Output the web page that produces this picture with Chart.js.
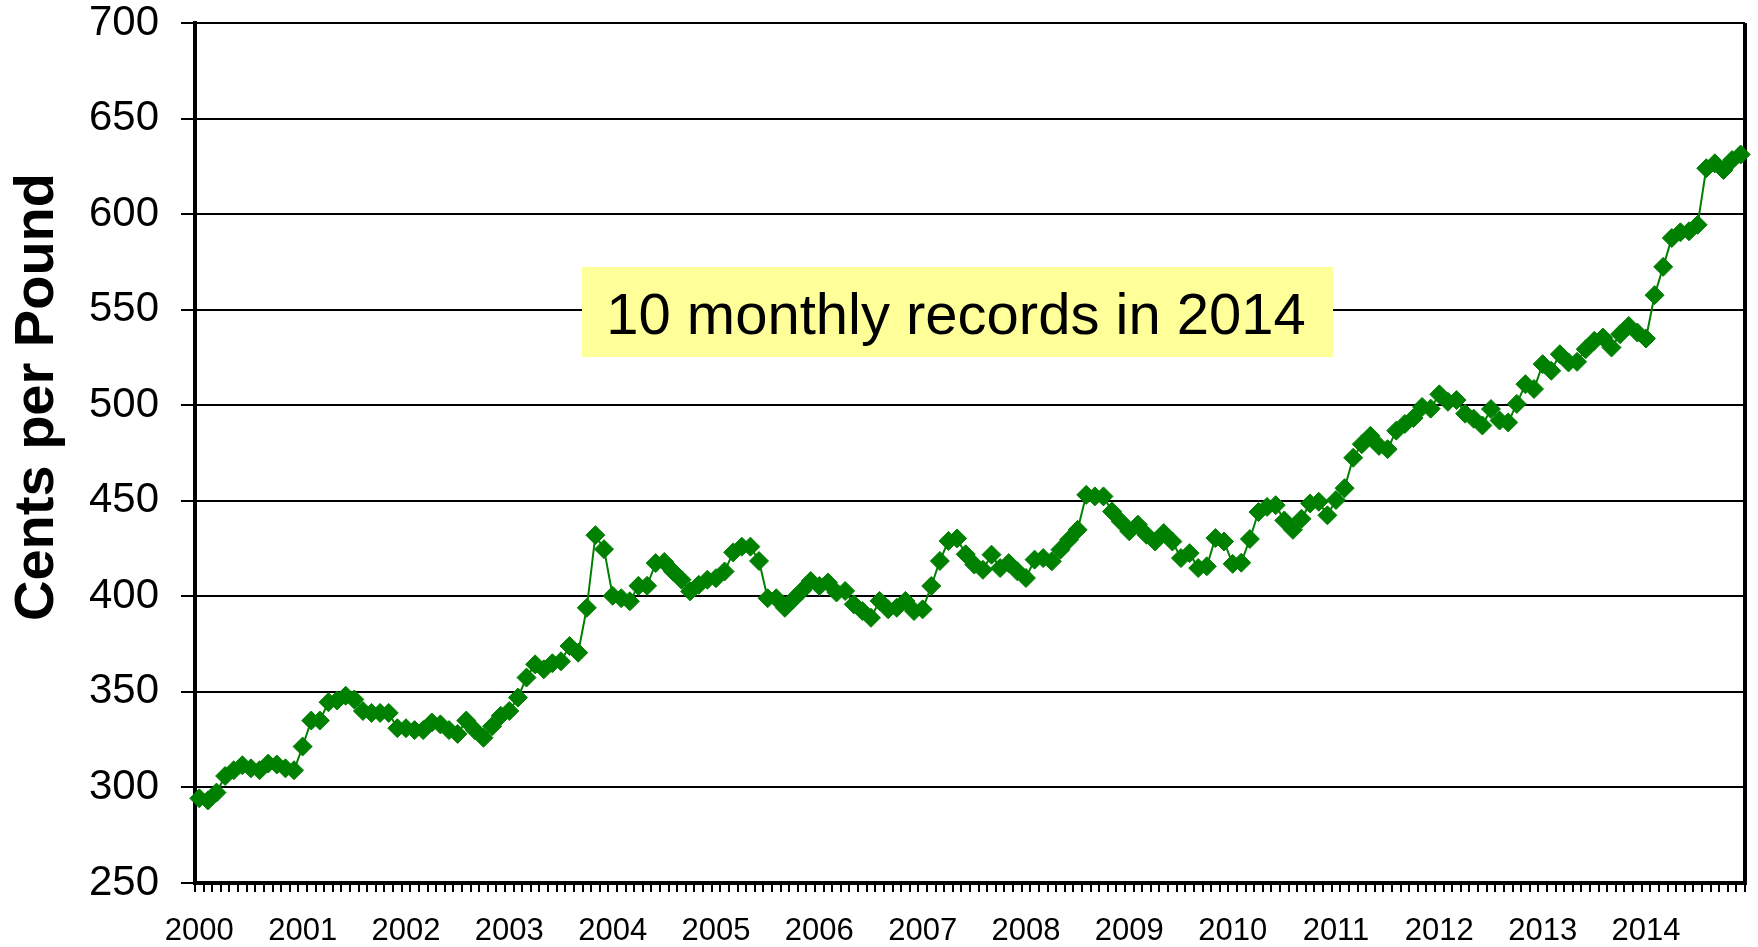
<!DOCTYPE html>
<html>
<head>
<meta charset="utf-8">
<script src="https://cdn.jsdelivr.net/npm/chart.js@4"></script>
<style>
  html, body { margin: 0; padding: 0; background: #ffffff; }
  #wrap { position: relative; width: 1758px; height: 947px; }
</style>
</head>
<body>
<div id="wrap"><canvas id="c"></canvas></div>
<script>
// ---- data (cents per pound, monthly) ----
const years = ['2000','2001','2002','2003','2004','2005','2006','2007','2008','2009','2010','2011','2012','2013','2014'];
const p2000 = [294.3, 293.2, 297.3, 306.0, 309.0, 311.6, 310.0, 309.0, 312.5, 312.0, 310.0, 309.0];
const p2001 = [321.4, 335.0, 335.0, 344.6, 345.5, 348.0, 346.0, 340.0, 339.0, 339.0, 339.0, 331.0];
const p2002 = [331.0, 330.0, 330.0, 334.0, 333.0, 330.0, 328.0, 335.0, 330.0, 326.0, 332.0, 337.5];
const p2003 = [340.0, 347.0, 357.5, 364.4, 361.8, 365.0, 366.0, 374.0, 370.5, 394.0, 432.0, 424.7];
const p2004 = [400.3, 399.0, 397.4, 405.5, 405.5, 417.4, 418.0, 413.0, 408.7, 402.6, 406.0, 408.7];
const p2005 = [409.5, 413.0, 423.0, 426.0, 426.0, 418.5, 399.0, 399.0, 394.0, 398.5, 403.0, 408.0];
const p2006 = [405.4, 407.2, 402.0, 402.8, 395.8, 392.3, 388.8, 397.6, 393.2, 394.0, 397.6, 392.3];
const p2007 = [393.2, 405.4, 418.5, 429.0, 430.3, 422.0, 416.6, 413.9, 421.8, 414.8, 417.4, 413.1];
const p2008 = [409.6, 419.2, 420.0, 418.3, 424.4, 429.6, 434.8, 453.1, 452.3, 452.3, 444.4, 439.2];
const p2009 = [434.0, 437.5, 432.2, 428.7, 433.1, 428.7, 420.0, 422.6, 414.8, 415.7, 430.5, 428.7];
const p2010 = [417.0, 417.6, 430.0, 444.1, 446.8, 447.7, 439.7, 434.8, 440.6, 448.6, 449.5, 442.4];
const p2011 = [450.4, 456.6, 472.5, 479.6, 484.0, 478.7, 477.0, 486.7, 490.2, 493.3, 499.1, 498.2];
const p2012 = [505.7, 501.8, 502.7, 495.6, 492.9, 489.4, 498.0, 492.0, 491.0, 500.7, 511.0, 508.5];
const p2013 = [521.5, 518.0, 526.7, 522.4, 522.7, 529.3, 533.7, 535.4, 530.2, 537.2, 541.5, 538.0];
const p2014 = [534.9, 557.6, 572.4, 587.5, 590.5, 591.0, 594.4, 624.0, 626.6, 623.1, 628.3, 631.2];

const yMin = 250, yMax = 700, yStep = 50;
const yTitle = 'Cents per Pound';
const noteText = '10 monthly records in 2014';

const values = [].concat(p2000, p2001, p2002, p2003, p2004, p2005, p2006, p2007,
                         p2008, p2009, p2010, p2011, p2012, p2013, p2014);
const categories = [];
years.forEach(y => { for (let m = 1; m <= 12; m++) categories.push(y + '-' + m); });

const FONT = "'Liberation Sans', Arial, sans-serif";
const GREEN = '#008000';

const decor = {
  id: 'decor',
  beforeDatasetsDraw(chart) {
    const { ctx, chartArea: a } = chart;
    ctx.save();
    // right frame line
    ctx.strokeStyle = '#000';
    ctx.lineWidth = 4;
    ctx.beginPath();
    ctx.moveTo(a.right, a.top);
    ctx.lineTo(a.right, a.bottom + 2);
    ctx.stroke();
    // annotation box
    ctx.fillStyle = '#FFFF99';
    ctx.fillRect(582, 267, 751, 90);
    ctx.fillStyle = '#000';
    ctx.font = '58px ' + FONT;
    ctx.textAlign = 'center';
    ctx.textBaseline = 'alphabetic';
    ctx.fillText(noteText, 956, 334);
    // y axis title
    ctx.translate(53, 397);
    ctx.rotate(-Math.PI / 2);
    ctx.font = 'bold 56px ' + FONT;
    ctx.textAlign = 'center';
    ctx.fillText(yTitle, 0, 0);
    ctx.restore();
  }
};

new Chart(document.getElementById('c'), {
  type: 'line',
  data: {
    labels: categories,
    datasets: [{
      data: values,
      borderColor: GREEN,
      backgroundColor: GREEN,
      borderWidth: 2,
      pointStyle: 'rectRot',
      pointRadius: 9.5,
      pointBorderWidth: 1,
      pointBorderColor: GREEN,
      pointBackgroundColor: GREEN,
      tension: 0,
      clip: false
    }]
  },
  options: {
    responsive: true,
    maintainAspectRatio: false,
    animation: false,
    events: [],
    layout: { padding: { top: 23, right: 13, left: 0, bottom: 0 } },
    plugins: { legend: { display: false }, tooltip: { enabled: false } },
    scales: {
      x: {
        type: 'category',
        offset: true,
        grid: { offset: true, drawOnChartArea: false, drawTicks: true, tickLength: 9, color: '#000', lineWidth: 2 },
        border: { display: true, color: '#000', width: 4 },
        ticks: {
          autoSkip: false, maxRotation: 0, minRotation: 0, padding: 8,
          color: '#000', font: { family: FONT, size: 31, lineHeight: 2.03 },
          callback: (v, i) => (i % 12 === 0 ? years[i / 12] : '')
        },
        afterFit: s => { s.height = 64; }
      },
      y: {
        min: yMin, max: yMax,
        grid: { color: '#000', lineWidth: 2, tickLength: 14, drawTicks: true },
        border: { display: true, color: '#000', width: 4 },
        ticks: {
          stepSize: yStep, padding: 22, color: '#000',
          font: { family: FONT, size: 42, lineHeight: 0.02 }
        },
        afterFit: s => { s.width = 195; }
      }
    }
  },
  plugins: [decor]
});
</script>
</body>
</html>
